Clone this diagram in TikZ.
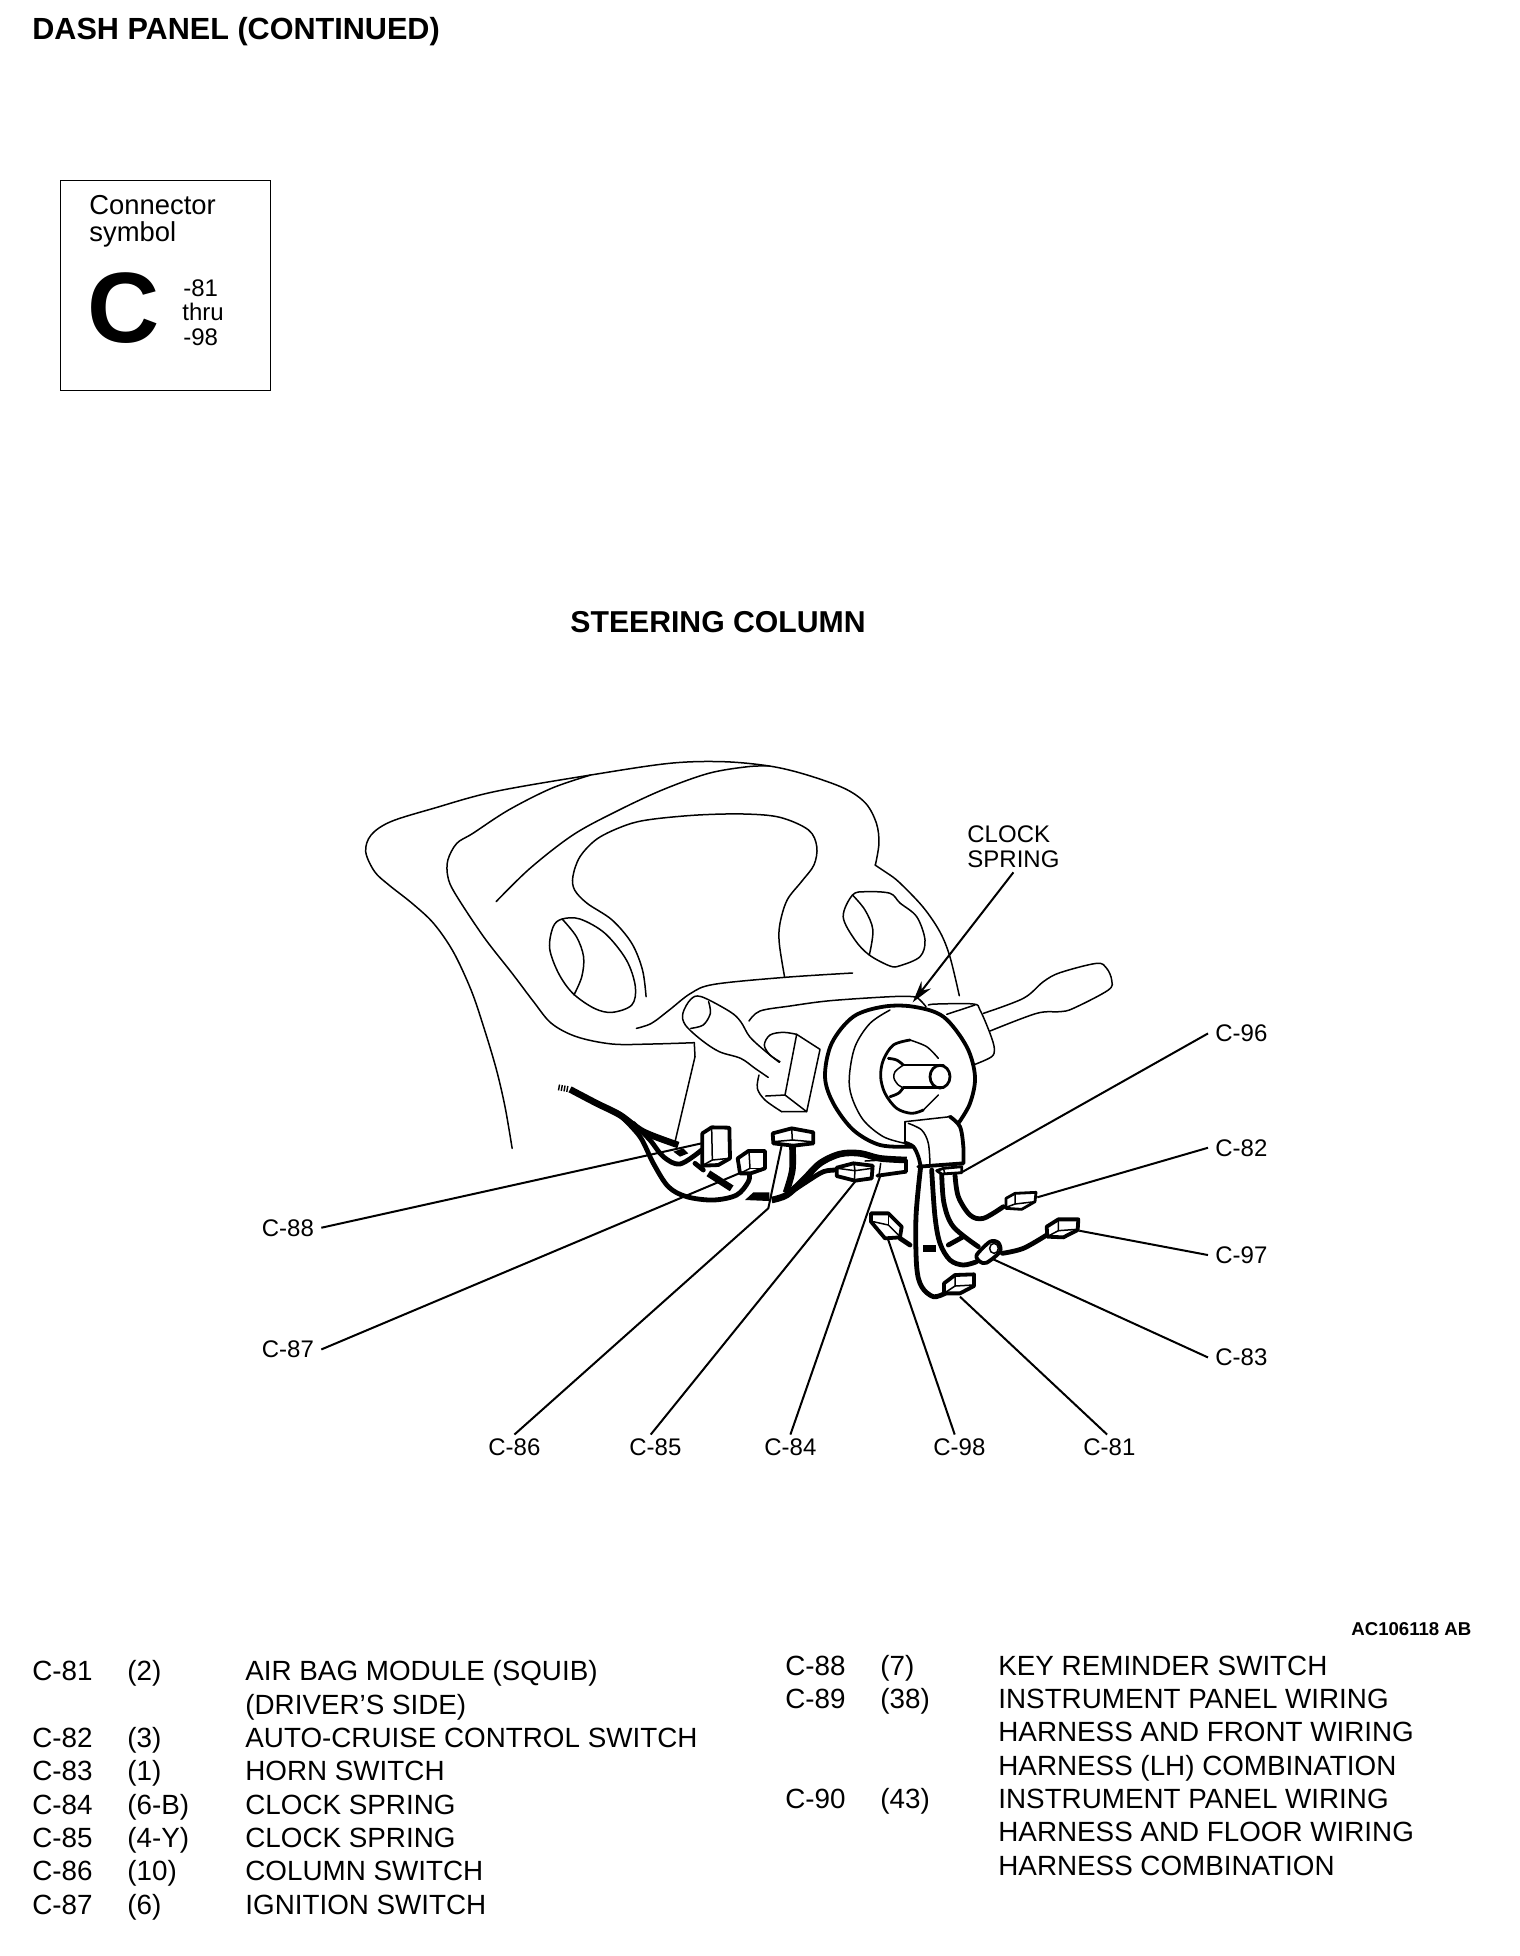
\documentclass[tikz,border=0pt]{standalone}
\usepackage{fontspec}
\setmainfont{Liberation Sans}
\usetikzlibrary{arrows.meta}
\tikzset{
  thinl/.style={draw=black,line width=0.75pt,line cap=round,line join=round},
  medl/.style={draw=black,line width=1.4pt,line cap=round,line join=round},
  thickl/.style={draw=black,line width=1.9pt,line cap=round,line join=round},
  wire/.style={draw=black,line width=2.4pt,line cap=round,line join=round},
  fatwire/.style={draw=black,line width=3.3pt,line cap=butt,line join=round},
  leader/.style={draw=black,line width=1pt},
  lab/.style={anchor=base west,inner xsep=3.5pt,inner ysep=2pt,font=\fontsize{12}{14}\selectfont},
  cell/.style={anchor=base west,inner sep=0pt,font=\fontsize{13.9}{16}\selectfont},
  zA/.style={shift={(330,740)},x=0.17857pt,y=-0.16667pt},
  zB/.style={shift={(540,1000)},x=0.16667pt,y=-0.16667pt},
  zC/.style={shift={(790,950)},x=0.16667pt,y=-0.16667pt},
  zH/.style={shift={(900,800)},x=0.16667pt,y=-0.16667pt},
  zI/.style={shift={(900,1100)},x=0.16667pt,y=-0.16667pt}
}
\newcommand{\cv}[2]{\draw[#1] plot[smooth,tension=0.55] coordinates {#2};}
\newcommand{\pl}[2]{\draw[#1] plot coordinates {#2};}
\begin{document}
\begin{tikzpicture}[x=0.5pt,y=-0.5pt]
\useasboundingbox (0,0) rectangle (1520,1956);
% ---- header and symbol box
\node[anchor=base west,inner sep=0pt,font=\fontsize{15.3}{18}\selectfont\bfseries] (title) at (32,39) {DASH PANEL (CONTINUED)};
\node[draw=black,line width=0.7pt,minimum width=105pt,minimum height=105pt,inner sep=0pt,anchor=north west] (symbox) at (59.5,180) {};
\node[anchor=base west,inner sep=0pt,font=\fontsize{13.7}{16}\selectfont] (sy1) at (89,214) {Connector};
\node[anchor=base west,inner sep=0pt,font=\fontsize{13.7}{16}\selectfont] (sy2) at (89,241.5) {symbol};
\node[anchor=base west,inner sep=0pt,font=\fontsize{50}{54}\selectfont\bfseries] (sy3) at (87,342) {C};
\node[anchor=base west,inner sep=0pt,font=\fontsize{12}{14}\selectfont] (sy4) at (183,296) {-81};
\node[anchor=base west,inner sep=0pt,font=\fontsize{12}{14}\selectfont] (sy5) at (182,320.5) {thru};
\node[anchor=base west,inner sep=0pt,font=\fontsize{12}{14}\selectfont] (sy6) at (183,345) {-98};
\node[anchor=base west,inner sep=0pt,font=\fontsize{15.1}{18}\selectfont\bfseries] (stitle) at (570,632) {STEERING COLUMN};
% ---- dash, thin lines
\begin{scope}[zA]
\cv{thinl}{(510,1225)(490,1100)(465,985)(430,860)(395,750)(345,635)(290,550)(230,490)(165,435)(125,395)(100,335)(115,285)(170,245)(290,205)(460,155)(730,105)(950,70)(1100,65)(1230,78)(1330,103)(1440,145)(1500,190)(1530,250)(1537,310)(1527,375)}
\cv{thinl}{(465,485)(560,385)(680,285)(800,215)(930,150)(1060,100)(1170,80)(1230,78)}
\cv{thinl}{(730,105)(620,145)(500,210)(400,280)(355,310)(330,360)(330,410)(350,460)(430,590)(510,700)(570,785)(620,850)(690,890)(790,912)(900,912)(1020,908)}
\pl{thinl}{(1020,908)(1022,950)(965,1210)}
\cv{thinl}{(885,770)(875,690)(845,610)(790,540)(720,490)(685,450)(680,410)(700,350)(750,295)(830,255)(900,238)(1030,225)(1160,222)(1260,232)(1340,270)(1363,320)(1355,375)(1320,425)(1280,480)(1260,550)(1258,610)(1273,712)}
\cv{thinl}{(858,865)(900,850)(950,810)(1010,760)(1075,733)(1273,712)(1463,699)}
\draw[thinl] plot[smooth cycle,tension=0.55] coordinates {(650,537)(700,537)(770,580)(830,660)(855,740)(845,795)(790,817)(740,805)(680,760)(640,700)(615,625)(625,560)};
\cv{thinl}{(650,537)(690,590)(710,650)(705,710)(683,765)}
\cv{thinl}{(1258,967)(1215,930)(1175,890)(1150,845)(1120,815)(1040,770)(1010,778)(988,820)(995,855)(1040,900)(1090,935)(1150,955)(1190,985)(1227,1012)}
\cv{thinl}{(1060,785)(1065,820)(1045,855)(1010,865)}
\end{scope}
\pl{thinl}{(875,865)(890,875)}
\cv{thinl}{(890,875)(900,883)(923,907)(940,932)(950,957)(959.3,995.7)}
\draw[thinl] plot[smooth cycle,tension=0.55] coordinates {(852.5,895)(865.7,891.7)(890,893.3)(900,903)(916.7,916.7)(925,940)(920,956.7)(900,965.7)(890,966)(869.3,955)(855,940)(843.2,916.7)};
\cv{thinl}{(852.5,895)(865,910)(872.9,930)(869.3,955)}
\cv{thinl}{(749,1021)(760,1011)(790,1006)(830,1000.7)(890,996.7)(913.3,996.7)(920,1000)(926,1006.7)}
% ---- ignition block
\begin{scope}[zB]
\cv{thinl}{(720,185)(690,165)(673,135)(690,105)(730,97)(770,103)}
\pl{thinl}{(770,103)(840,148)(800,335)(725,335)}
\cv{thinl}{(725,335)(675,300)(652,265)(657,225)}
\pl{thinl}{(770,103)(735,285)(800,335)}
\pl{thinl}{(735,285)(677,288)}
\end{scope}
% ---- column switch stalk
\begin{scope}[zH]
\cv{thinl}{(85,615)(110,612)(220,612)(240,630)(270,700)(283,745)(275,770)(225,793)}
\pl{thinl}{(140,643)(225,615)}
\cv{thinl}{(250,640)(370,595)(430,545)(480,518)(590,490)(620,505)(635,540)(625,570)(520,625)(480,635)(410,640)(270,693)}
\end{scope}
% ---- clock spring
\begin{scope}[zC]
\cv{thickl}{(365,590)(270,585)(190,540)(130,460)(105,380)(125,280)(190,200)(280,170)(370,170)(460,200)(530,290)(555,380)(540,460)(505,520)}
\cv{thinl}{(345,580)(280,560)(220,510)(185,440)(178,380)(195,290)(240,220)(300,180)}
\cv{medl}{(400,480)(365,490)(320,475)(285,430)(272,380)(280,330)(310,285)(360,270)}
\cv{thinl}{(360,270)(410,290)(445,325)}
\cv{thinl}{(400,480)(445,435)}
\pl{medl}{(340,345)(460,345)}
\pl{medl}{(340,413)(460,413)}
\draw[medl] (450,380) ellipse [x radius=30,y radius=34];
\cv{thinl}{(340,345)(315,365)(312,385)(325,405)(340,413)}
\cv{medl}{(295,325)(320,330)(340,345)}
\cv{medl}{(300,440)(325,430)(340,413)}
% bracket
\pl{thinl}{(345,515)(480,500)}
\cv{thickl}{(480,500)(510,530)(520,590)(520,640)}
\pl{thickl}{(520,640)(385,650)}
\pl{thinl}{(345,515)(345,578)}
\cv{thickl}{(345,578)(370,590)(385,620)(392,650)}
\cv{thinl}{(355,520)(395,540)(415,580)(420,645)}
% wires
\cv{wire}{(392,650)(378,800)(380,950)(395,1010)(430,1040)(465,1030)}
\cv{wire}{(425,660)(435,800)(450,880)(480,930)(520,945)(560,935)}
\cv{wire}{(455,670)(462,760)(490,830)(565,890)}
\cv{wire}{(495,675)(505,740)(540,795)(580,805)(640,770)}
\pl{fatwire}{(400,895)(438,895)}
\pl{wire}{(475,885)(520,860)}
\pl{wire}{(330,865)(360,885)}
\cv{wire}{(637,910)(700,895)(770,855)}
% C-83 capsule
\draw[thickl,fill=white] plot[smooth cycle,tension=0.5] coordinates {(560,915)(600,875)(625,878)(630,905)(590,938)(570,935)};
\draw[thinl] (612,895) ellipse [x radius=13,y radius=15];
% C-98
\draw[thickl,fill=white] (243,790) -- (295,790) -- (335,830) -- (330,862) -- (285,865) -- (243,815) -- cycle;
\pl{thinl}{(250,815)(295,825)(330,860)}
\pl{thinl}{(295,790)(295,825)}
\end{scope}
% ---- connectors, right
\begin{scope}[zI]
\draw[medl,fill=white] (110,212) -- (130,205) -- (185,200) -- (185,218) -- (125,222) -- cycle;
\pl{thinl}{(130,205)(135,222)}
\draw[medl,fill=white] (318,295) -- (345,280) -- (408,277) -- (405,305) -- (365,328) -- (318,325) -- cycle;
\pl{thinl}{(345,280)(345,312)(318,322)}
\pl{thinl}{(345,312)(405,305)}
\draw[thickl,fill=white] (440,380) -- (475,358) -- (535,358) -- (533,390) -- (490,412) -- (442,410) -- cycle;
\pl{thinl}{(475,360)(475,392)(445,408)}
\pl{thinl}{(475,392)(530,388)}
\draw[thickl,fill=white] (132,550) -- (165,525) -- (222,523) -- (222,558) -- (180,580) -- (132,580) -- cycle;
\pl{thinl}{(165,527)(165,558)(135,578)}
\pl{thinl}{(165,558)(220,555)}
\end{scope}
% ---- harness, left
\begin{scope}[zB]
\draw[line width=3pt,dash pattern=on 0.7pt off 0.7pt] (55,262) -- (88,268);
\cv{fatwire}{(90,268)(170,310)(240,345)(310,395)(415,435)}
\cv{wire}{(240,345)(300,410)(340,490)(385,560)(440,590)(520,600)(590,585)(625,545)(628,520)}
\cv{wire}{(280,370)(330,420)(370,470)(420,492)(485,450)}
\fill[black] (400,455) -- (430,445) -- (445,460) -- (420,470) -- cycle;
\pl{wire}{(465,490)(490,510)}
\draw[line width=3.4pt] (505,520) -- (575,565);
\fill[black] (615,600) -- (640,577) -- (688,577) -- (688,603) -- cycle;
\cv{fatwire}{(695,600)(740,585)(790,540)(840,490)(900,462)(960,460)(1020,475)(1100,480)}
\cv{wire}{(740,585)(800,545)(850,515)(890,510)}
\cv{fatwire}{(757,435)(757,510)(738,578)}
% C-88
\draw[thickl,fill=white] (487,400) -- (515,382) -- (568,383) -- (570,475) -- (535,495) -- (487,497) -- cycle;
\pl{thinl}{(515,385)(517,480)(490,495)}
\pl{thinl}{(517,480)(568,475)}
% C-87
\draw[thickl,fill=white] (593,475) -- (625,453) -- (675,453) -- (675,505) -- (632,520) -- (600,520) -- cycle;
\pl{thinl}{(627,455)(630,505)(600,520)}
\pl{thinl}{(630,505)(672,505)}
% C-86
\draw[thickl,fill=white] (698,400) -- (755,385) -- (820,397) -- (820,430) -- (760,437) -- (700,430) -- cycle;
\pl{thinl}{(755,385)(757,420)(700,425)}
\pl{thinl}{(757,420)(815,425)}
% C-85
\draw[thickl,fill=white] (890,503) -- (940,490) -- (998,497) -- (995,535) -- (945,542) -- (890,528) -- cycle;
\pl{thinl}{(942,492)(945,512)(943,540)}
\pl{thinl}{(893,505)(945,512)(995,505)}
% C-84
\draw[thickl] (1030,480) -- (1098,480) -- (1098,515) -- (1012,527);
\pl{thinl}{(975,483)(1030,480)}
\pl{thinl}{(1022,490)(1017,525)}
\end{scope}
% ---- labels
\node[lab] (l88) at (254.5,1236) {C-88};
\node[lab] (l87) at (254.5,1357.7) {C-87};
\node[lab] (l86) at (481,1455.7) {C-86};
\node[lab] (l85) at (622,1455.7) {C-85};
\node[lab] (l84) at (757,1455.7) {C-84};
\node[lab] (l98) at (926,1455.7) {C-98};
\node[lab] (l81) at (1076,1455.7) {C-81};
\node[lab] (l96) at (1208,1041.7) {C-96};
\node[lab] (l82) at (1208,1156) {C-82};
\node[lab] (l97) at (1208,1263.3) {C-97};
\node[lab] (l83) at (1208,1365.7) {C-83};
\node[lab] (lclock) at (960,842.3) {CLOCK};
\node[lab] (lspring) at (960,867.7) {SPRING};
% ---- leader ends
\coordinate (c88) at (701.7,1143.3);
\coordinate (c87) at (741.7,1172.3);
\coordinate (c86a) at (768.3,1208.3);
\coordinate (c86) at (781.7,1145);
\coordinate (c85) at (855,1181.7);
\coordinate (c84) at (880,1176.7);
\coordinate (c98) at (887.7,1238.3);
\coordinate (c81) at (960,1296.7);
\coordinate (c83) at (993.3,1259.3);
\coordinate (c97) at (1079.3,1230.7);
\coordinate (c82) at (1037.3,1197.3);
\coordinate (c96) at (961.7,1172.3);
\coordinate (cspring) at (912.7,1002.3);
\draw[leader] (l88.east) -- (c88);
\draw[leader] (l87.east) -- (c87);
\draw[leader] (l86.north) -- (c86a) -- (c86);
\draw[leader] (l85.110) -- (c85);
\draw[leader] (l84.north) -- (c84);
\draw[leader] (l98.110) -- (c98);
\draw[leader] (l81.100) -- (c81);
\draw[leader] (l96.west) -- (c96);
\draw[leader] (l82.west) -- (c82);
\draw[leader] (l97.west) -- (c97);
\draw[leader] (l83.west) -- (c83);
\draw[leader,-{Stealth[length=11pt,width=6pt]}] (lspring.south) -- (cspring);
% ---- code
\node[anchor=base west,inner sep=0pt,font=\fontsize{9.3}{11}\selectfont\bfseries] (code) at (1351,1635) {AC106118 AB};
% ---- left table
\node[cell] (a1) at (32,1680.7) {C-81};  \node[cell] (b1) at (127,1680.7) {(2)};   \node[cell] (d1) at (245,1680.7) {AIR BAG MODULE (SQUIB)};
\node[cell] (d2) at (245,1714) {(DRIVER'S SIDE)};
\node[cell] (a3) at (32,1747.3) {C-82};  \node[cell] (b3) at (127,1747.3) {(3)};   \node[cell] (d3) at (245,1747.3) {AUTO-CRUISE CONTROL SWITCH};
\node[cell] (a4) at (32,1780.6) {C-83};  \node[cell] (b4) at (127,1780.6) {(1)};   \node[cell] (d4) at (245,1780.6) {HORN SWITCH};
\node[cell] (a5) at (32,1814) {C-84};    \node[cell] (b5) at (127,1814) {(6-B)};   \node[cell] (d5) at (245,1814) {CLOCK SPRING};
\node[cell] (a6) at (32,1847.4) {C-85};  \node[cell] (b6) at (127,1847.4) {(4-Y)}; \node[cell] (d6) at (245,1847.4) {CLOCK SPRING};
\node[cell] (a7) at (32,1880.7) {C-86};  \node[cell] (b7) at (127,1880.7) {(10)};  \node[cell] (d7) at (245,1880.7) {COLUMN SWITCH};
\node[cell] (a8) at (32,1914) {C-87};    \node[cell] (b8) at (127,1914) {(6)};     \node[cell] (d8) at (245,1914) {IGNITION SWITCH};
% ---- right table
\node[cell] (e1) at (785,1675) {C-88};   \node[cell] (f1) at (880,1675) {(7)};     \node[cell] (g1) at (998,1675) {KEY REMINDER SWITCH};
\node[cell] (e2) at (785,1708.4) {C-89}; \node[cell] (f2) at (880,1708.4) {(38)};  \node[cell] (g2) at (998,1708.4) {INSTRUMENT PANEL WIRING};
\node[cell] (g3) at (998,1741.7) {HARNESS AND FRONT WIRING};
\node[cell] (g4) at (998,1775) {HARNESS (LH) COMBINATION};
\node[cell] (e5) at (785,1808.4) {C-90}; \node[cell] (f5) at (880,1808.4) {(43)};  \node[cell] (g5) at (998,1808.4) {INSTRUMENT PANEL WIRING};
\node[cell] (g6) at (998,1841.7) {HARNESS AND FLOOR WIRING};
\node[cell] (g7) at (998,1875) {HARNESS COMBINATION};
\end{tikzpicture}
\end{document}
